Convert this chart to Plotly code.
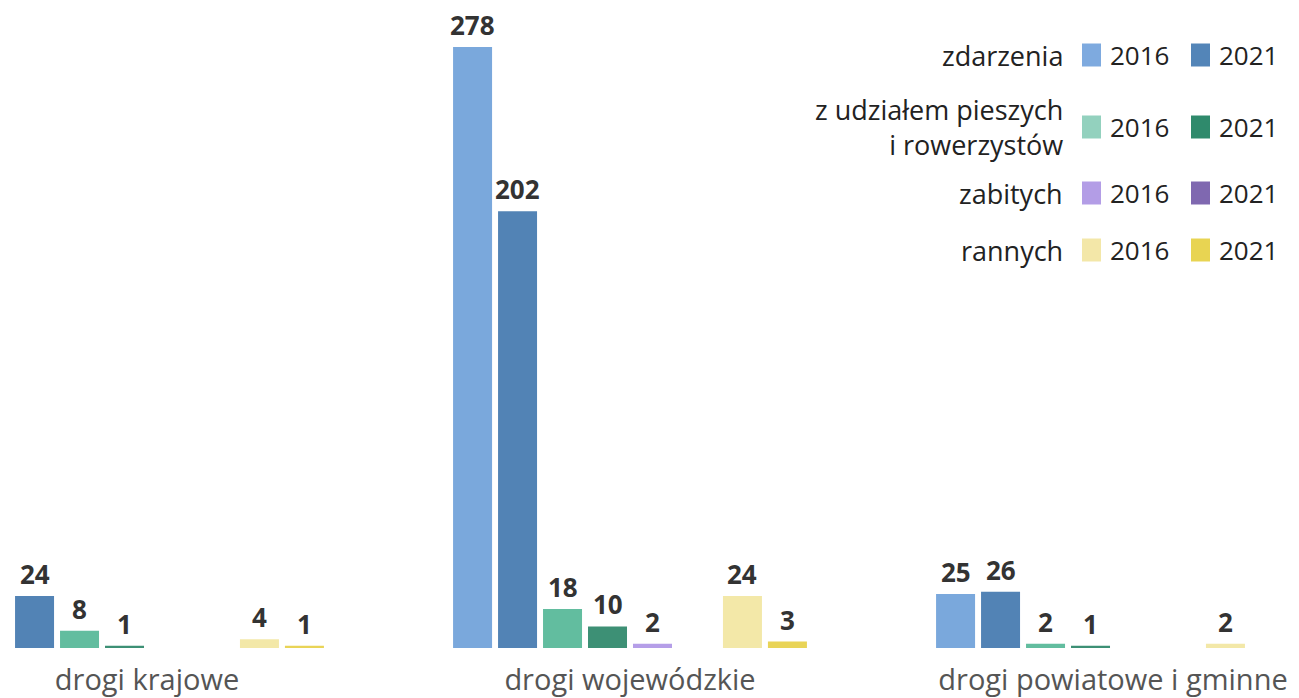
import plotly.graph_objects as go

categories = ["drogi krajowe", "drogi wojewódzkie", "drogi powiatowe i gminne"]
zdarzenia_2016 = [None, 278, 25]
zdarzenia_2021 = [24, 202, 26]
pieszych_2016 = [8, 18, 2]
pieszych_2021 = [1, 10, 1]
zabitych_2016 = [None, 2, None]
zabitych_2021 = [None, None, None]
rannych_2016 = [4, 24, 2]
rannych_2021 = [1, 3, None]

series = [
    ("zdarzenia 2016", zdarzenia_2016, "#7aa8dc"),
    ("zdarzenia 2021", zdarzenia_2021, "#5283b5"),
    ("pieszych 2016", pieszych_2016, "#62bd9f"),
    ("pieszych 2021", pieszych_2021, "#3d9075"),
    ("zabitych 2016", zabitych_2016, "#b59ee8"),
    ("zabitych 2021", zabitych_2021, "#7f68b0"),
    ("rannych 2016", rannych_2016, "#f3e8a8"),
    ("rannych 2021", rannych_2021, "#e9d457"),
]

legend_rows = [
    ("zdarzenia", "#7eaadf", "#5385b8", 55),
    ("z udziałem pieszych<br>i rowerzystów", "#93d1be", "#2f8a6c", 127),
    ("zabitych", "#b39de6", "#7f68b0", 193),
    ("rannych", "#f3e7a8", "#e8d452", 250),
]

# page offset (browser body margin)
OFF = 8
W, H = 1299 - OFF, 698 - OFF
PLOT_H = 648 - OFF
FONT = "Open Sans"
BARGAP = 0.255

fig = go.Figure()
for name, vals, col in series:
    fig.add_trace(go.Bar(
        name=name, x=categories, y=vals,
        marker=dict(color=col, line=dict(width=0)),
        showlegend=False, hoverinfo="y",
    ))

annotations = []
slot = (1 - BARGAP) / len(series)
for k, (name, vals, col) in enumerate(series):
    for i, v in enumerate(vals):
        if v is None:
            continue
        annotations.append(dict(
            x=i + (k - (len(series) - 1) / 2) * slot, y=v,
            xref="x", yref="y", text=str(v), showarrow=False,
            xanchor="center", yanchor="bottom", yshift=3, borderpad=0,
            font=dict(family=FONT, size=26, color="#333333", weight="bold"),
        ))

shapes = []
def px(x):
    return (x - OFF) / W
def py(y):
    return 1 - (y - OFF) / PLOT_H

for label, c1, c2, yc in legend_rows:
    annotations.append(dict(
        text=label, x=px(1065), y=py(yc), xref="paper", yref="paper",
        xanchor="right", yanchor="middle", align="right", showarrow=False,
        font=dict(family=FONT, size=27, color="#222222"),
    ))
    for (x0, col, yr) in [(1082, c1, "2016"), (1191, c2, "2021")]:
        shapes.append(dict(
            type="rect", xref="paper", yref="paper",
            x0=px(x0), x1=px(x0 + 19), y0=py(yc - 11.5), y1=py(yc + 11.5),
            fillcolor=col, line=dict(width=0),
        ))
        annotations.append(dict(
            text=yr, x=px(x0 + 26), y=py(yc), xref="paper", yref="paper",
            xanchor="left", yanchor="middle", showarrow=False,
            font=dict(family=FONT, size=26, color="#222222"),
        ))

c0 = 147 - OFF
unit = 483
fig.update_layout(
    width=W, height=H,
    barmode="group", bargap=BARGAP, bargroupgap=0.133,
    plot_bgcolor="white", paper_bgcolor="white",
    margin=dict(l=0, r=0, t=0, b=H - PLOT_H),
    xaxis=dict(range=[-c0 / unit, (W - c0) / unit], showgrid=False, zeroline=False,
               showline=False, ticks="", ticklabelstandoff=12, automargin=False,
               tickfont=dict(family=FONT, size=29, color="#555555")),
    yaxis=dict(range=[0, PLOT_H / 2.162], visible=False, automargin=False),
    shapes=shapes, annotations=annotations,
)
fig.write_html("out.html")
